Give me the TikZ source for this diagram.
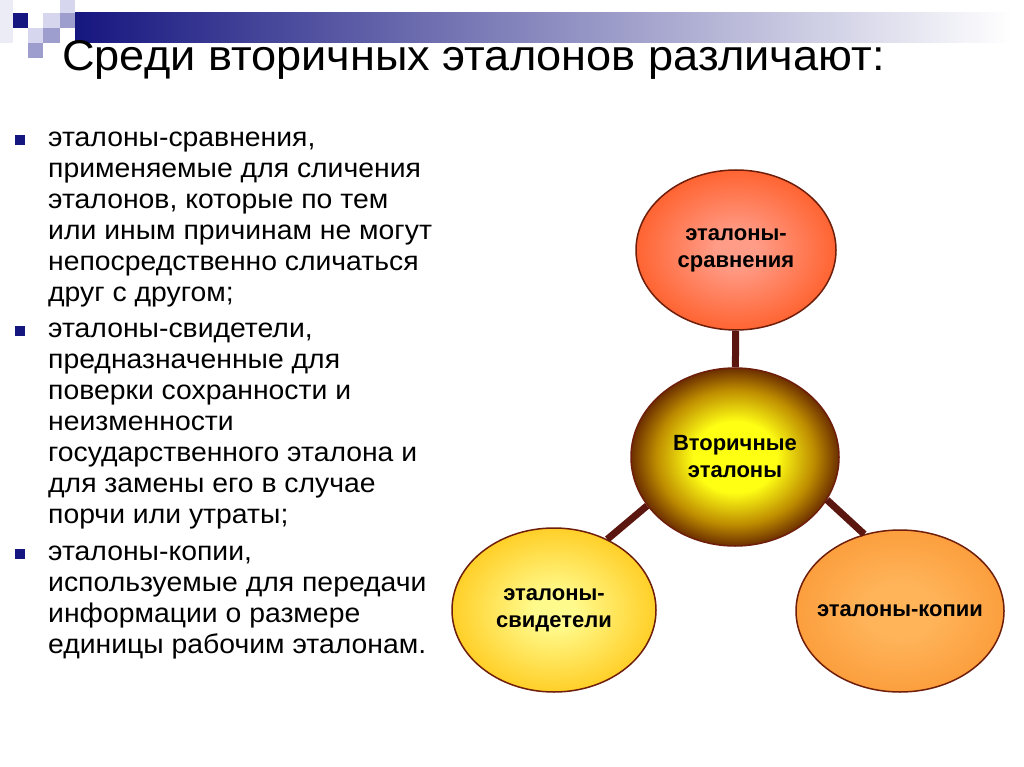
\documentclass[tikz,border=0pt]{standalone}
\usepackage{fontspec}
\setmainfont{Liberation Sans}
\newfontfamily\widesans{Liberation Sans}[FakeStretch=1.05]
\usetikzlibrary{shapes.geometric}

\definecolor{navy}{RGB}{22,22,128}
\definecolor{barmid}{RGB}{160,160,196}
\definecolor{sqlight}{RGB}{214,214,238}
\definecolor{sqmid}{RGB}{158,158,206}
\definecolor{sqfaint}{RGB}{236,236,246}
\definecolor{ringline}{RGB}{110,30,10}
\definecolor{linkcol}{RGB}{92,22,16}
\definecolor{cmpin}{RGB}{255,156,136}
\definecolor{cmpout}{RGB}{255,86,28}
\definecolor{ctrin}{RGB}{255,255,20}
\definecolor{ctrmid}{RGB}{190,140,0}
\definecolor{ctrout}{RGB}{80,16,0}
\definecolor{witin}{RGB}{255,250,140}
\definecolor{witout}{RGB}{255,190,0}
\definecolor{cpyin}{RGB}{255,180,90}
\definecolor{cpyout}{RGB}{250,150,50}

% the ellipse border sits at about 35bp of the shading
\pgfdeclareradialshading{cmpshade}{\pgfpoint{0bp}{0bp}}{color(0bp)=(cmpin); color(5bp)=(cmpin); color(30bp)=(cmpout); color(50bp)=(cmpout)}
\pgfdeclareradialshading{ctrshade}{\pgfpoint{0bp}{0bp}}{color(0bp)=(ctrin); color(10bp)=(ctrin); color(19bp)=(ctrmid); color(27bp)=(ctrout); color(50bp)=(ctrout)}
\pgfdeclareradialshading{witshade}{\pgfpoint{0bp}{0bp}}{color(0bp)=(witin); color(5bp)=(witin); color(33bp)=(witout); color(50bp)=(witout)}
\pgfdeclareradialshading{cpyshade}{\pgfpoint{0bp}{0bp}}{color(0bp)=(cpyin); color(8bp)=(cpyin); color(32bp)=(cpyout); color(50bp)=(cpyout)}

\begin{document}
\begin{tikzpicture}[x=1pt,y=-1pt,
    bullet/.style={fill=navy,minimum size=10pt,inner sep=0pt},
    para/.style={anchor=north west,align=left,inner sep=0pt,
        font=\widesans\fontsize{27}{31}\selectfont},
    ball/.style={ellipse,draw=ringline,line width=1.5pt,inner sep=0pt,
        align=center,font=\fontsize{22}{27}\selectfont\bfseries},
    link/.style={draw=linkcol,line width=7pt}]
    \useasboundingbox[fill=white] (0,0) rectangle (1024,767);

    % header squares and bar
    \fill[sqfaint] (0,0) rectangle (13,43);
    \fill[sqlight] (28,28) rectangle (43,43);
    \fill[sqlight] (43,13) rectangle (60,28);
    \fill[sqlight] (60,0) rectangle (75,13);
    \fill[sqmid] (60,13) rectangle (75,28);
    \fill[sqmid] (43,28) rectangle (60,43);
    \fill[sqmid] (28,43) rectangle (43,58);
    \fill[navy] (13,13) rectangle (28,28);
    \shade[left color=navy,middle color=barmid,right color=white]
        (75,13) rectangle (1012,43);

    \node[anchor=base west,inner sep=0pt,
          font=\widesans\fontsize{43}{43}\selectfont]
        (title) at (62,71) {Среди вторичных эталонов различают:};

    % bullet list
    \node[bullet] (b1) at (20,140) {};
    \node[para] (p1) at (48,132)
        {эталоны-сравнения,\\
         применяемые для сличения\\
         эталонов, которые по тем\\
         или иным причинам не могут\\
         непосредственно сличаться\\
         друг с другом;};
    \node[bullet] (b2) at (20,331) {};
    \node[para] (p2) at (48,323)
        {эталоны-свидетели,\\
         предназначенные для\\
         поверки сохранности и\\
         неизменности\\
         государственного эталона и\\
         для замены его в случае\\
         порчи или утраты;};
    \node[bullet] (b3) at (20,554) {};
    \node[para] (p3) at (48,546)
        {эталоны-копии,\\
         используемые для передачи\\
         информации о размере\\
         единицы рабочим эталонам.};

    % circles
    \node[ball,shading=ctrshade,minimum width=208pt,minimum height=178pt]
        (ctr) at (735,457) {Вторичные\\эталоны};
    \node[ball,shading=cmpshade,minimum width=200pt,minimum height=160pt]
        (cmp) at (736,250) {эталоны-\\сравнения};
    \node[ball,shading=witshade,minimum width=204pt,minimum height=164pt]
        (wit) at (554,610) {эталоны-\\свидетели};
    \node[ball,shading=cpyshade,minimum width=208pt,minimum height=162pt,
          inner xsep=-14pt]
        (cpy) at (900,611) {эталоны-копии};

    \draw[link] (ctr) -- (cmp);
    \draw[link] (ctr.209) -- (wit.53);
    \draw[link] (ctr.335) -- (cpy.115);
\end{tikzpicture}
\end{document}
